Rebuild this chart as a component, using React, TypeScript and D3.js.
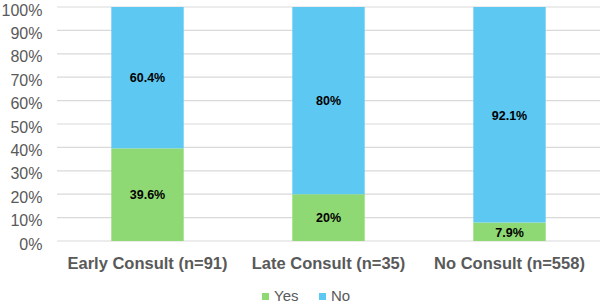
import React from "react";
import * as d3 from "d3";

const categories = ["Early Consult (n=91)", "Late Consult (n=35)", "No Consult (n=558)"];
const yesValues = [39.6, 20, 7.9];
const noValues = [60.4, 80, 92.1];
const yesLabels = ["39.6%", "20%", "7.9%"];
const noLabels = ["60.4%", "80%", "92.1%"];
const yTicks = [0, 10, 20, 30, 40, 50, 60, 70, 80, 90, 100];
const seriesNames = ["Yes", "No"];

const W = 600, H = 307;
const GREEN = "#8ED973";
const BLUE = "#5DC9F2";
const FONT = "'Liberation Sans', Arial, sans-serif";

export default function App() {
  const x = d3.scaleBand<string>().domain(categories).range([57, 600]).paddingInner(0.6).paddingOuter(0.3);
  const y = d3.scaleLinear().domain([0, 100]).range([241, 7]);
  const bw = x.bandwidth();
  return (
    <svg width={W} height={H} style={{ position: "absolute", left: 0, top: 0, background: "#fff" }} fontFamily={FONT}>
      {yTicks.map((t) => (
        <g key={t}>
          <line x1={57} x2={600} y1={y(t)} y2={y(t)} stroke="#d9d9d9" strokeWidth={1.2} />
          <text x={42.5} y={y(t) + 8.5} textAnchor="end" fontSize={16} fill="#595959">{t}%</text>
        </g>
      ))}
      {categories.map((c, i) => {
        const x0 = x(c)!;
        return (
          <g key={c}>
            <rect x={x0} width={bw} y={y(yesValues[i])} height={y(0) - y(yesValues[i])} fill={GREEN} />
            <rect x={x0} width={bw} y={y(yesValues[i] + noValues[i])} height={y(yesValues[i]) - y(yesValues[i] + noValues[i])} fill={BLUE} />
            <text x={x0 + bw / 2} y={y(yesValues[i] / 2)} dy="0.38em" textAnchor="middle" fontSize={12.5} fontWeight="bold" fill="#000">{yesLabels[i]}</text>
            <text x={x0 + bw / 2} y={y(yesValues[i] + noValues[i] / 2)} dy="0.38em" textAnchor="middle" fontSize={12.5} fontWeight="bold" fill="#000">{noLabels[i]}</text>
            <text x={x0 + bw / 2} y={269} textAnchor="middle" fontSize={16.5} fontWeight="bold" fill="#595959">{c}</text>
          </g>
        );
      })}
      <g>
        <rect x={262} y={293} width={7} height={7} fill={GREEN} />
        <text x={274} y={301} fontSize={15} fill="#595959">{seriesNames[0]}</text>
        <rect x={319} y={293} width={7} height={7} fill={BLUE} />
        <text x={331} y={301} fontSize={15} fill="#595959">{seriesNames[1]}</text>
      </g>
    </svg>
  );
}
